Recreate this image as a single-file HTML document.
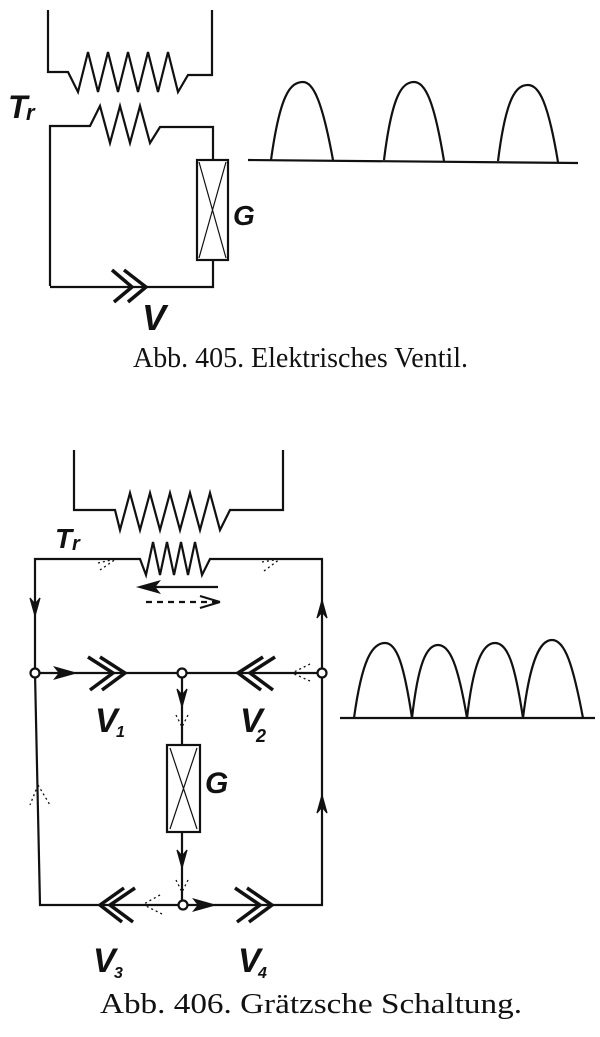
<!DOCTYPE html>
<html><head><meta charset="utf-8"><style>
html,body{margin:0;padding:0;background:#fff;width:600px;height:1037px;overflow:hidden}
svg{display:block}
</style></head><body>
<svg width="600" height="1037" viewBox="0 0 600 1037" xmlns="http://www.w3.org/2000/svg">
<g fill="none" stroke="#111" stroke-width="2.2" stroke-linejoin="miter">
<!-- Fig 405 -->
<path d="M48,10 V72 H68 L78,92 L88,52 L98,92 L108,52 L118,92 L128,52 L138,92 L148,52 L158,92 L168,52 L178,92 L188,75 H212 V10"/>
<path d="M50,286 V126 H90 L100,106 L110,143 L120,106 L130,143 L140,106 L150,143 L160,127 H213 V160"/>
<rect x="197" y="160" width="31" height="100"/>
<path d="M199,162 L226,258 M226,162 L199,258" stroke-width="1.2"/>
<path d="M213,260 V287 H50"/>
<path d="M112,270 L132,287 L114,302 M124,270 L146,287 L128,302" stroke-width="3.5"/>
<!-- waveform 1 -->
<path d="M248,160 L578,163"/>
<path d="M271,160 C280,95 290,82 303,82 C313,82 322,100 333,160"/>
<path d="M384,160 C392,95 402,82 414,82 C425,82 434,100 444,161"/>
<path d="M498,161 C506,97 516,85 528,85 C539,85 548,102 558,162"/>
<!-- Fig 406 -->
<path d="M74,450 V510 H115 L120,530 L130,493 L140,530 L150,493 L160,530 L170,493 L180,530 L190,493 L200,530 L210,493 L220,530 L230,510 H283 V450"/>
<path d="M35,673 V559 H140 L146,575 L153,542 L160,575 L167,542 L174,575 L181,542 L188,575 L195,542 L202,575 L210,559 H322 V673"/>
<path d="M35,673 H322"/>
<path d="M182,673 V745 M182,832 V905"/>
<rect x="167" y="745" width="33" height="87"/>
<path d="M170,748 L197,829 M197,748 L170,829" stroke-width="1.2"/>
<path d="M35,673 L40,905 H322 V673"/>
<path d="M88,657 L113,673 L90,690 M100,657 L125,673 L102,690" stroke-width="3.5"/>
<path d="M275,657 L250,673 L273,690 M263,657 L238,673 L261,690" stroke-width="3.5"/>
<path d="M135,888 L110,905 L133,922 M124,888 L100,905 L122,922" stroke-width="3.5"/>
<path d="M235,888 L260,905 L237,922 M247,888 L272,905 L249,922" stroke-width="3.5"/>
<!-- arrows -->
<path d="M218,587 H142"/>
<path d="M140,587 L158,582 L154,587 L158,592 Z" fill="#111"/>
<path d="M146,602 H218" stroke-dasharray="6,5"/>
<path d="M220,602 L200,596 M220,602 L200,608"/>
<path d="M35,616 L30,598 L35,604 L40,598 Z" fill="#111" stroke-width="1.2"/>
<path d="M322,600 L317,618 L322,612 L327,618 Z" fill="#111" stroke-width="1.2"/>
<path d="M322,795 L317,813 L322,807 L327,813 Z" fill="#111" stroke-width="1.2"/>
<path d="M74,673 L56,668 L60,673 L56,678 Z" fill="#111"/>
<path d="M182,707 L177,689 L182,695 L187,689 Z" fill="#111" stroke-width="1.2"/>
<path d="M182,868 L177,850 L182,856 L187,850 Z" fill="#111" stroke-width="1.2"/>
<path d="M213,905 L195,900 L199,905 L195,910 Z" fill="#111"/>
<g stroke-width="1.3" stroke-dasharray="2,3">
<path d="M38,785 l-8,20 M38,785 l12,20 M98,563 l18,-4 M100,570 l16,-11 M262,562 l18,-3 M264,571 l16,-12 M310,664 l-18,9 M310,681 l-18,-8 M176,715 l6,12 M188,715 l-6,12 M176,880 l6,12 M188,880 l-6,12 M160,895 l-18,10 M162,914 l-18,-9"/>
</g>
<circle cx="35" cy="673" r="4.5" fill="#fff"/>
<circle cx="182" cy="673" r="4.5" fill="#fff"/>
<circle cx="322" cy="673" r="4.5" fill="#fff"/>
<circle cx="183" cy="905" r="4.5" fill="#fff"/>
<!-- waveform 2 -->
<path d="M340,718 H595"/>
<path d="M354,718 C362,660 372,643 385,643 C397,643 404,665 412,718 C418,665 426,645 438,645 C450,645 458,665 467,718 C473,665 482,643 495,643 C508,643 515,665 523,718 C530,660 540,640 552,640 C565,640 573,665 583,718"/>
</g>
<g font-family="Liberation Sans, sans-serif" font-style="italic" font-weight="bold" fill="#111">
<text x="8" y="118" font-size="32">T</text><text x="26" y="120" font-size="22">r</text>
<text x="233" y="225" font-size="28">G</text>
<text x="142" y="330" font-size="36">V</text>
<text x="55" y="548" font-size="28">T</text><text x="72" y="550" font-size="20">r</text>
<text x="205" y="793" font-size="30">G</text>
<text x="95" y="732" font-size="34">V</text><text x="116" y="737" font-size="16">1</text>
<text x="240" y="732" font-size="34">V</text><text x="256" y="742" font-size="18">2</text>
<text x="93" y="972" font-size="34">V</text><text x="114" y="978" font-size="16">3</text>
<text x="238" y="972" font-size="34">V</text><text x="258" y="978" font-size="16">4</text>
</g>
<g font-family="Liberation Serif, serif" font-size="28" fill="#111">
<text x="133" y="367" textLength="335" lengthAdjust="spacingAndGlyphs">Abb. 405. Elektrisches Ventil.</text>
<text x="100" y="1013" textLength="422" lengthAdjust="spacingAndGlyphs">Abb. 406. Grätzsche Schaltung.</text>
</g>
</svg>
</body></html>
